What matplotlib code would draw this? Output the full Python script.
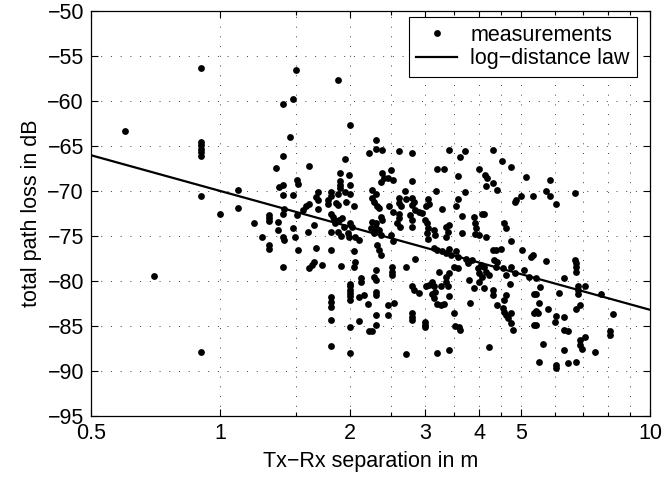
import numpy as np
import matplotlib
matplotlib.use("Agg")
import matplotlib.pyplot as plt
from matplotlib.ticker import FixedLocator, NullFormatter

plt.rcParams['font.family'] = ['Liberation Sans', 'DejaVu Sans']

# measured points: (Tx-Rx distance in m, total path loss in dB)
points = [
    (0.6, -63.3), (0.7, -79.4), (0.9, -56.3), (0.9, -64.5), (0.9, -64.9), (0.9, -65.3),
    (0.9, -65.7), (0.9, -66.1), (0.9, -70.5), (0.9, -87.9), (1.0, -72.6), (1.1, -69.9),
    (1.1, -71.9), (1.2, -73.6),
    (1.5, -56.5), (1.88, -57.7), (1.4, -60.3), (1.48, -59.8), (2.0, -62.7), (1.45, -64.0),
    (2.3, -64.3), (2.3, -65.3), (2.38, -65.4), (2.22, -65.8), (1.4, -66.1), (1.95, -66.4),
    (2.6, -65.6), (2.8, -65.8), (3.41, -65.4), (3.72, -65.6), (3.62, -66.2), (4.32, -65.4),
    (1.35, -67.4), (1.61, -67.2), (1.51, -68.8), (1.52, -69.2), (1.40, -69.3), (1.37, -69.5),
    (1.90, -68.0), (1.99, -68.2), (1.90, -68.9), (1.90, -69.3), (1.90, -69.7), (2.0, -69.3),
    (2.0, -70.3), (1.95, -70.1), (1.88, -70.3), (1.40, -70.4), (1.48, -70.4), (1.69, -70.1),
    (1.67, -70.7), (1.69, -71.0), (1.81, -70.1), (1.81, -70.6), (1.78, -71.4), (1.78, -71.0),
    (1.96, -71.2), (2.05, -71.7), (1.86, -71.3), (1.88, -71.6), (1.61, -71.4), (1.58, -71.7),
    (1.56, -72.1), (1.41, -72.0), (1.40, -72.5), (1.51, -72.7), (1.69, -72.0), (1.30, -72.7),
    (1.30, -73.0), (1.30, -73.3), (1.36, -73.4), (1.81, -72.5), (1.83, -72.9), (1.84, -73.2),
    (1.85, -73.5), (1.89, -73.2), (1.92, -73.0), (2.0, -73.6), (2.03, -74.0), (1.94, -74.0),
    (2.26, -70.8), (2.28, -71.2), (2.32, -71.7), (2.34, -71.9), (2.26, -73.4), (2.30, -73.6),
    (2.30, -74.1), (2.36, -72.9), (2.38, -73.2), (2.24, -74.1), (2.28, -74.7), (2.34, -74.3),
    (2.36, -74.9), (2.38, -68.0), (2.41, -68.6), (2.36, -69.0), (2.45, -68.6), (2.49, -67.7),
    (2.52, -68.8), (2.26, -69.9), (2.30, -70.3), (2.47, -71.7), (2.52, -72.3), (1.25, -75.1),
    (1.30, -76.0), (1.30, -76.4), (1.36, -74.3), (1.40, -75.1), (1.41, -75.4), (1.48, -74.1),
    (1.49, -75.1), (1.60, -74.6), (1.65, -73.8), (1.81, -74.5), (1.88, -74.6), (1.91, -75.0),
    (1.98, -74.7), (1.99, -75.1), (2.06, -75.1), (2.10, -75.4), (1.52, -76.6), (1.67, -76.3),
    (1.81, -76.5), (2.05, -76.7), (2.32, -76.0), (2.34, -76.6), (2.36, -77.1), (2.49, -74.9),
    (2.52, -75.6), (1.40, -78.4), (1.63, -78.2), (1.61, -78.6), (1.65, -77.9), (1.72, -78.2),
    (1.91, -78.3), (2.05, -78.4), (2.06, -77.9), (2.28, -79.5), (2.30, -78.8), (2.12, -79.7),
    (2.51, -78.4), (2.51, -79.0), (2.51, -79.3),
    (3.20, -67.5), (3.32, -67.5), (3.57, -68.3), (2.79, -68.9), (4.01, -67.6), (4.14, -68.2),
    (4.17, -68.6), (4.16, -69.4), (4.32, -69.1), (4.53, -66.7), (4.75, -67.3), (5.15, -68.4),
    (4.40, -69.9), (3.72, -70.1), (3.18, -70.0), (2.69, -70.0), (5.01, -70.6), (4.88, -71.0),
    (4.84, -71.2), (5.33, -70.6), (2.60, -70.8), (2.60, -71.3), (2.63, -71.7), (2.70, -70.9),
    (2.80, -70.8), (2.83, -71.2), (2.80, -71.6), (3.04, -70.9), (3.06, -71.4), (3.01, -71.7),
    (2.90, -72.3), (2.95, -72.4), (2.84, -72.1), (3.28, -72.0), (3.57, -70.9), (3.53, -71.7),
    (3.66, -72.8), (4.07, -72.5), (4.11, -72.6), (3.90, -72.9), (3.92, -73.6), (3.93, -74.1),
    (4.58, -73.6), (4.62, -74.1), (2.61, -72.5), (2.61, -73.0), (2.58, -73.6), (2.62, -74.0),
    (2.77, -72.7), (2.79, -73.2), (2.80, -74.0), (3.0, -73.2), (3.02, -73.6), (3.05, -74.1),
    (3.02, -74.7), (3.05, -75.3), (3.14, -74.3), (3.16, -74.9), (3.35, -74.0), (3.41, -73.8),
    (3.38, -74.5), (3.35, -75.1), (3.66, -74.7), (3.92, -74.8), (4.01, -74.9), (4.16, -75.1),
    (3.14, -76.3), (3.20, -76.6), (3.28, -76.7), (3.35, -76.9), (3.41, -76.4), (3.45, -77.1),
    (3.53, -76.7), (3.57, -77.3), (4.30, -76.5), (4.38, -76.6), (4.50, -76.4), (4.75, -75.5),
    (5.03, -76.6), (2.70, -78.4), (2.84, -77.6), (3.23, -79.0), (3.35, -79.6), (3.41, -79.1),
    (3.50, -78.4), (3.57, -78.6), (3.74, -77.5), (3.77, -78.0), (3.86, -77.7), (3.97, -78.6),
    (4.04, -78.2), (4.11, -78.4), (4.16, -79.0), (4.23, -79.3), (4.34, -77.7), (4.41, -77.9),
    (4.38, -78.4), (4.54, -78.6), (4.62, -79.3), (4.75, -78.4), (4.84, -79.1), (5.10, -78.8),
    (5.24, -79.5), (5.33, -77.1), (5.29, -77.3), (4.01, -79.1), (4.07, -79.5),
    (5.84, -68.8), (5.74, -70.0), (5.84, -70.6), (6.03, -71.4), (6.69, -70.2), (5.74, -77.8),
    (6.69, -77.7), (6.71, -78.0), (6.72, -78.4), (6.74, -79.0), (6.32, -79.7), (5.43, -79.7),
    (2.0, -80.3), (2.0, -80.6), (2.0, -81.0), (2.0, -81.3), (2.0, -81.7), (2.0, -82.1),
    (2.12, -80.1), (2.30, -79.9), (2.30, -81.2), (2.30, -81.6), (2.10, -81.8), (2.16, -81.6),
    (1.81, -81.8), (1.81, -82.3), (1.81, -82.9), (1.81, -84.3), (2.21, -82.6), (2.45, -82.7),
    (2.45, -83.8), (2.30, -83.8), (2.30, -84.9), (2.10, -84.4), (2.0, -85.1), (2.22, -85.5),
    (2.25, -85.6), (1.81, -87.2), (2.0, -88.0), (2.54, -82.4),
    (2.80, -80.6), (2.83, -81.0), (2.90, -81.3), (3.01, -80.6), (3.06, -80.4), (3.11, -80.1),
    (3.14, -80.6), (3.11, -81.4), (3.14, -81.9), (3.20, -82.5), (3.26, -82.7), (3.32, -82.5),
    (3.16, -81.2), (3.35, -80.1), (3.38, -80.6), (3.40, -81.7), (3.26, -80.6), (3.50, -83.5),
    (2.80, -83.6), (2.80, -84.0), (2.80, -84.3), (3.0, -84.5), (3.0, -84.9), (3.0, -85.1),
    (3.52, -85.0), (3.60, -85.1), (3.61, -85.4), (3.80, -79.9), (3.90, -80.8), (4.01, -80.1),
    (4.11, -80.8), (3.81, -82.4), (4.30, -81.0), (4.30, -81.6), (4.41, -82.7), (4.58, -82.1),
    (4.62, -81.6), (4.54, -83.0), (4.58, -83.4), (4.62, -83.8), (4.66, -84.1), (4.75, -83.6),
    (4.75, -84.7), (4.79, -85.4), (4.71, -80.3), (5.38, -81.4), (5.38, -83.6), (5.38, -84.9),
    (4.21, -87.3), (3.40, -87.7), (3.20, -88.0), (2.70, -88.1),
    (5.55, -80.7), (5.43, -81.4), (5.52, -82.4), (5.50, -83.5), (5.43, -83.3), (5.79, -83.1),
    (6.05, -83.9), (6.00, -84.5), (6.32, -84.0), (6.13, -81.3), (6.80, -80.6), (6.80, -81.0),
    (6.80, -81.4), (7.04, -80.6), (7.70, -81.4), (6.86, -82.7), (6.74, -83.1), (8.20, -83.7),
    (5.43, -84.9), (6.32, -85.4), (6.44, -85.6), (8.05, -85.6), (8.05, -86.0), (6.86, -86.5),
    (7.04, -86.2), (6.86, -87.1), (6.96, -87.5), (5.63, -87.0), (6.32, -87.7), (7.43, -87.9),
    (5.52, -89.0), (6.03, -89.3), (6.03, -89.7), (6.44, -89.1), (6.74, -89.0),
]
distance_m = [p[0] for p in points]
path_loss_db = [p[1] for p in points]

# log-distance law: L(d) = L0 - 10 n log10(d)
law_L0 = -70.0
law_slope = -13.2
law_d = [0.5, 10.0]

xticks = [0.5, 1, 2, 3, 4, 5, 10]
xtick_labels = ['0.5', '1', '2', '3', '4', '5', '10']
xminor = [1.5, 2.5, 3.5, 4.5, 6, 7, 8, 9]
yticks = list(range(-95, -49, 5))

FS = 15.5

fig = plt.figure(figsize=(6.63, 4.82), dpi=100)
ax = fig.add_axes([91/663, 1-416/482, 559/663, 405/482])

ax.plot(distance_m, path_loss_db, 'o', color='black', ms=4.9, mew=0,
        label='measurements', zorder=3)
law_L = [law_L0 + law_slope*np.log10(d) for d in law_d]
ax.plot(law_d, law_L, '-', color='black', lw=1.6, label='log\u2212distance law', zorder=4)

ax.set_xscale('log')
ax.set_xlim(0.5, 10)
ax.set_ylim(-95, -50)
ax.xaxis.set_major_locator(FixedLocator(xticks))
ax.set_xticklabels(xtick_labels)
ax.xaxis.set_minor_locator(FixedLocator(xminor))
ax.xaxis.set_minor_formatter(NullFormatter())
ax.set_yticks(yticks)
ax.set_yticklabels(['\u2212%d' % (-v) for v in yticks])

ax.tick_params(which='both', direction='in', top=True, right=True, labelsize=FS, width=0.8)
ax.tick_params(which='major', length=5, pad=5)
ax.tick_params(which='minor', length=3)
ax.grid(True, which='both', linestyle=(0, (1, 9)), color='black', lw=0.7, alpha=0.75)
for s in ax.spines.values():
    s.set_linewidth(0.9)

ax.set_xlabel('Tx\u2212Rx separation in m', fontsize=FS, labelpad=5)
ax.set_ylabel('total path loss in dB', fontsize=FS, labelpad=4)

leg = ax.legend(loc='upper right', bbox_to_anchor=(0.977, 0.985), borderaxespad=0,
                fontsize=FS, fancybox=False, framealpha=1, edgecolor='black',
                handlelength=1.9, handletextpad=0.6, borderpad=0.35, labelspacing=0.12)
leg.get_frame().set_linewidth(0.8)

fig.savefig('out.png', dpi=100)
